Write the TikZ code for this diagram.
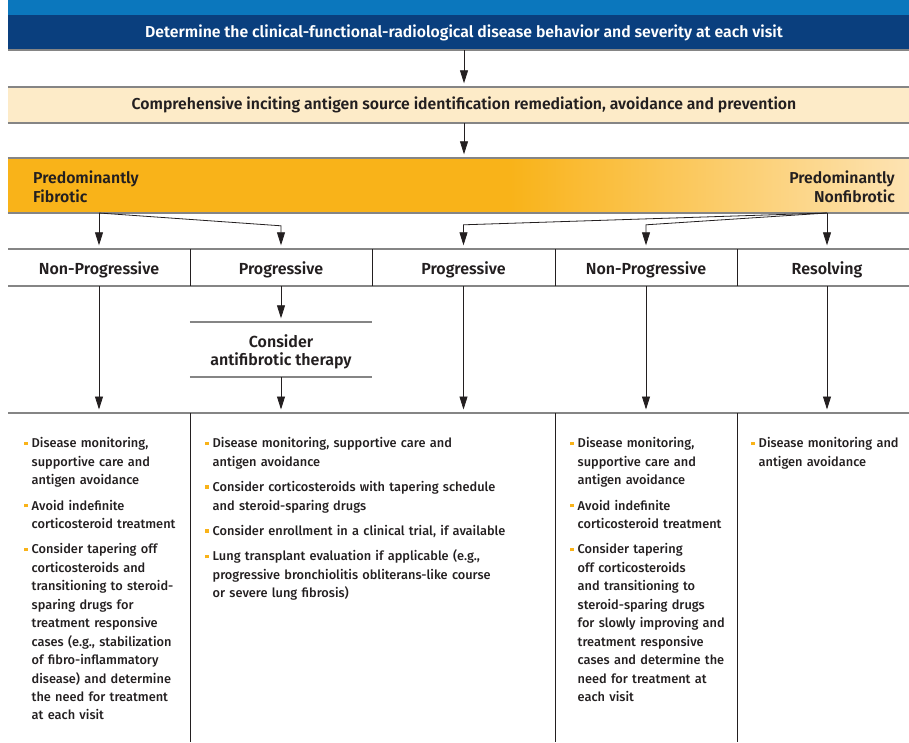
\documentclass[tikz,border=0pt]{standalone}
\usepackage{fontspec}
\setmainfont{Fira Sans}[UprightFont={* Medium}, BoldFont={* SemiBold}]
\usetikzlibrary{arrows.meta}

\definecolor{titleblue}{HTML}{0B77BD}
\definecolor{deepblue}{HTML}{0A3F7E}
\definecolor{beige}{HTML}{FDEBC8}
\definecolor{amber}{HTML}{F9B319}
\definecolor{paleamber}{HTML}{FDE3B3}
\definecolor{rulegray}{HTML}{858585}
\definecolor{ink}{HTML}{231F20}

% one bulleted paragraph with a hanging indent; \\ breaks a line inside it
\newcommand{\bitem}[1]{\par\noindent\hangindent=7.5pt\hangafter=1%
  \makebox[7.5pt][l]{\textcolor{amber}{\rule[2.6pt]{3.5pt}{3.5pt}}}{\let\\\newline #1}\par}

\begin{document}
\begin{tikzpicture}[x=1pt,y=1pt,
  rule/.style={draw=rulegray, line width=1.5pt},
  sep/.style={draw=ink, line width=0.8pt},
  arr/.style={draw=ink, line width=0.8pt, -{Triangle[width=8pt,length=13pt]}, shorten >=3.5pt},
  band/.style={minimum width=912pt, inner sep=0pt, font=\bfseries\fontsize{15.8}{18}\selectfont},
  head/.style={minimum width=160pt, minimum height=37pt, inner sep=0pt, align=center,
    text height=13.5pt, text depth=0pt, font=\bfseries\fontsize{16}{18}\selectfont, text=ink},
  body/.style={anchor=north west, inner sep=0pt, align=left, text width=#1, text=ink,
    font=\fontsize{12.8}{18.45}\selectfont\setlength{\parskip}{7pt}},
]
\clip (0,0) rectangle (909,-742);
\useasboundingbox (0,0) rectangle (909,-742);

% title strip and first step
\fill[titleblue] (8,0) rectangle (920,-15);
\node[band, fill=deepblue, text=white, minimum height=35pt] (visit) at (464,-32.5)
  {Determine the clinical-functional-radiological disease behavior and severity at each visit};
\draw[rule] (visit.south west) -- (visit.south east);

% antigen step
\node[band, fill=beige, text=ink, minimum height=36pt] (antigen) at (464,-105)
  {Comprehensive inciting antigen source identification remediation, avoidance and prevention};
\draw[rule] (antigen.north west) -- (antigen.north east);
\draw[rule] (antigen.south west) -- (antigen.south east);

% fibrotic / nonfibrotic band
\fill[amber] (8,-158) rectangle (510,-213);
\shade[left color=amber, right color=paleamber] (510,-158) rectangle (909,-213);
\node[band, minimum height=55pt] (pheno) at (464,-185.5) {};
\draw[rule] (pheno.north west) -- (pheno.north east);
\draw[rule] (pheno.south west) -- (pheno.south east);
\node[anchor=west, align=left, inner sep=0pt, text=ink, font=\bfseries\fontsize{15.8}{19}\selectfont]
  (fibro) at (33,-186.5) {Predominantly\\Fibrotic};
\node[anchor=east, align=right, inner sep=0pt, text=ink, font=\bfseries\fontsize{15.8}{19}\selectfont]
  (nonfibro) at (895,-186.5) {Predominantly\\Nonfibrotic};

\draw[arr] (visit) -- (antigen);
\draw[arr] (antigen) -- (pheno);

% course headers
\node[head] (h1) at (99,-267.5) {Non-Progressive};
\node[head] (h2) at (281,-267.5) {Progressive};
\node[head] (h3) at (463.5,-267.5) {Progressive};
\node[head] (h4) at (646,-267.5) {Non-Progressive};
\node[head] (h5) at (827,-267.5) {Resolving};
\draw[rule] (8,-249) -- (909,-249);
\draw[rule] (8,-286) -- (909,-286);
\foreach \x in {190,372,555,737} \draw[sep] (\x,-249) -- (\x,-286);

% branching from the band
\coordinate (fsrc) at (99,-213);
\coordinate (nsrc) at (827,-213);
\draw[arr] (fsrc) -- (h1.north);
\draw[arr] (fsrc) -- ([yshift=23pt]h2.north) -- (h2.north);
\draw[arr] (nsrc) -- ([yshift=24pt]h3.north) -- (h3.north);
\draw[arr] (nsrc) -- ([yshift=24pt]h4.north) -- (h4.north);
\draw[arr] (nsrc) -- (h5.north);

% antifibrotic step
\node[minimum width=182pt, minimum height=55pt, inner sep=0pt] (af) at (281,-349.5) {};
\node[head, minimum height=0pt, text height=, text depth=] (aftext) at (281,-352)
  {Consider\\antifibrotic therapy};
\draw[rule] (af.north west) -- (af.north east);
\draw[rule] (af.south west) -- (af.south east);

% management tier
\draw[rule] (8,-413) -- (909,-413);
\foreach \x in {190,555,737} \draw[sep] (\x,-413) -- (\x,-742);
\coordinate (tier) at (0,-413);

\draw[arr] (h1) -- (h1 |- tier);
\draw[arr] (h2) -- (af);
\draw[arr] (af) -- (af |- tier);
\draw[arr] (h3) -- (h3 |- tier);
\draw[arr] (h4) -- (h4 |- tier);
\draw[arr] (h5) -- (h5 |- tier);

\node[body=165pt] (m1) at (24,-422) {%
  \bitem{Disease monitoring,\\supportive care and\\antigen avoidance}
  \bitem{Avoid indefinite\\corticosteroid treatment}
  \bitem{Consider tapering off\\corticosteroids and\\transitioning to steroid-\\sparing drugs for\\treatment responsive\\cases (e.g., stabilization\\of fibro-inflammatory\\disease) and determine\\the need for treatment\\at each visit}};
\node[body=340pt] (m2) at (205,-422) {%
  \bitem{Disease monitoring, supportive care and\\antigen avoidance}
  \bitem{Consider corticosteroids with tapering schedule\\and steroid-sparing drugs}
  \bitem{Consider enrollment in a clinical trial, if available}
  \bitem{Lung transplant evaluation if applicable (e.g.,\\progressive bronchiolitis obliterans-like course\\or severe lung fibrosis)}};
\node[body=165pt] (m4) at (570,-422) {%
  \bitem{Disease monitoring,\\supportive care and\\antigen avoidance}
  \bitem{Avoid indefinite\\corticosteroid treatment}
  \bitem{Consider tapering\\off corticosteroids\\and transitioning to\\steroid-sparing drugs\\for slowly improving and\\treatment responsive\\cases and determine the\\need for treatment at\\each visit}};
\node[body=155pt] (m5) at (751,-422) {%
  \bitem{Disease monitoring and\\antigen avoidance}};
\end{tikzpicture}
\end{document}
